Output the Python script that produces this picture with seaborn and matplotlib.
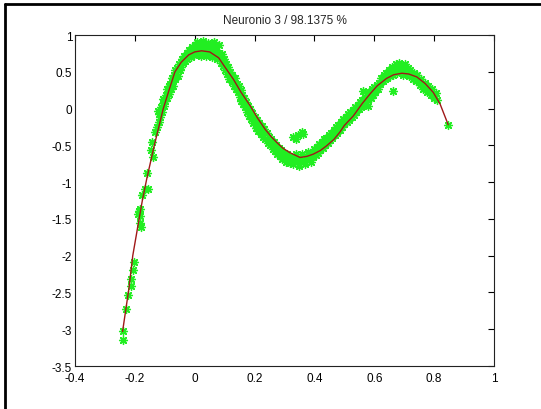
import matplotlib
matplotlib.use("Agg")
import matplotlib.pyplot as plt
from matplotlib.lines import Line2D
import seaborn as sns
import pandas as pd

title = "Neuronio 3 / 98.1375 %"

# fitted curve
curve_x = [-0.241, -0.22, -0.207, -0.19, -0.175, -0.16, -0.145, -0.135, -0.12, -0.105,
           -0.085, -0.066, -0.045, -0.02, 0.0, 0.023, 0.05, 0.08, 0.10, 0.129, 0.155,
           0.185, 0.21, 0.235, 0.255, 0.274, 0.295, 0.318, 0.352, 0.375, 0.396, 0.42,
           0.441, 0.465, 0.485, 0.50, 0.53, 0.56, 0.586, 0.61, 0.641, 0.665, 0.692,
           0.715, 0.742, 0.77, 0.797, 0.82, 0.847]
curve_y = [-3.03, -2.45, -2.0, -1.6, -1.25, -0.95, -0.68, -0.5, -0.25, 0.0,
           0.26, 0.5, 0.63, 0.73, 0.77, 0.785, 0.77, 0.69, 0.57, 0.40, 0.22,
           0.04, -0.13, -0.28, -0.38, -0.46, -0.54, -0.60, -0.665, -0.65, -0.62, -0.57,
           -0.505, -0.42, -0.32, -0.23, -0.10, 0.07, 0.20, 0.31, 0.41, 0.46, 0.48,
           0.47, 0.43, 0.34, 0.22, 0.06, -0.22]

pts_x = [
    -0.241, -0.241, -0.230, -0.222, -0.214, -0.213, -0.205, -0.203, -0.181, -0.183,
    -0.183, -0.185, -0.188, -0.183, -0.177, -0.166, -0.155, -0.158, -0.138, -0.146,
    -0.142, -0.133, -0.127, -0.122,
    -0.120, -0.118, -0.115, -0.112, -0.110, -0.107, -0.105, -0.102, -0.100, -0.097,
    -0.094, -0.092, -0.090, -0.087, -0.085, -0.082, -0.080, -0.077, -0.075, -0.072,
    -0.070, -0.067, -0.065, -0.062, -0.060, -0.057, -0.055, -0.052, -0.050, -0.047,
    -0.045, -0.042, -0.040, -0.038, -0.035, -0.032, -0.030, -0.027, -0.025, -0.022,
    -0.020, -0.016, -0.013, -0.010, -0.007, -0.004, 0.000, 0.003, 0.007, 0.010,
    0.013, 0.016, 0.019, 0.022, 0.025, 0.029, 0.032, 0.035, 0.038, 0.041,
    0.044, 0.047, 0.051, 0.054, 0.057, 0.060, 0.063, 0.066, 0.069, 0.072,
    0.075, 0.078, 0.081, 0.084, 0.087, 0.090, 0.093, 0.096, 0.099,
    0.102, 0.105, 0.108, 0.111, 0.114, 0.117, 0.120, 0.123, 0.126, 0.129,
    0.132, 0.135, 0.138, 0.141, 0.144, 0.147, 0.150, 0.153, 0.156, 0.159,
    0.162, 0.165, 0.168, 0.172, 0.175, 0.178, 0.182, 0.185, 0.188, 0.192,
    0.196, 0.200, 0.204, 0.208, 0.212, 0.216, 0.220, 0.224, 0.228, 0.232,
    0.236, 0.240, 0.244, 0.248, 0.252, 0.256, 0.260, 0.264, 0.268, 0.272,
    0.276, 0.280, 0.284, 0.288, 0.292, 0.296, 0.300, 0.304, 0.308, 0.312,
    0.316, 0.320, 0.324,
    0.330, 0.340, 0.357, 0.363, 0.345,
    0.328, 0.332, 0.336, 0.340, 0.344, 0.348, 0.352, 0.356, 0.360, 0.364,
    0.368, 0.372, 0.376, 0.380, 0.384, 0.388, 0.392, 0.396, 0.400, 0.404,
    0.408, 0.412, 0.416, 0.420, 0.424, 0.428, 0.432, 0.436, 0.440, 0.444,
    0.448, 0.452, 0.456, 0.460, 0.464, 0.468, 0.472, 0.476, 0.480, 0.484,
    0.488, 0.492, 0.496, 0.500, 0.504, 0.508, 0.512, 0.516, 0.520, 0.524,
    0.528, 0.532, 0.536, 0.540, 0.544, 0.548, 0.552, 0.556, 0.560, 0.564,
    0.568, 0.572, 0.576, 0.580, 0.584, 0.588, 0.592, 0.596, 0.600, 0.604,
    0.608, 0.612, 0.616,
    0.620, 0.624, 0.628, 0.632, 0.636, 0.640, 0.644, 0.648, 0.652, 0.656,
    0.660, 0.664, 0.668, 0.672, 0.676, 0.680, 0.684, 0.688, 0.692, 0.696,
    0.700, 0.704, 0.708, 0.712, 0.716, 0.720, 0.724, 0.728, 0.732, 0.736,
    0.740, 0.744, 0.748, 0.752, 0.756, 0.760, 0.764, 0.768, 0.772, 0.776,
    0.780, 0.784, 0.788, 0.792, 0.796, 0.800, 0.805, 0.810, 0.847, 0.663,
    0.580, 0.563,
]
pts_y = [
    -3.15, -3.02, -2.72, -2.54, -2.41, -2.32, -2.20, -2.09, -1.61, -1.55,
    -1.46, -1.39, -1.43, -1.37, -1.18, -1.09, -1.09, -0.87, -0.66, -0.57,
    -0.46, -0.32, -0.25, -0.03,
    -0.18, -0.08, -0.12, 0.02, -0.05, 0.08, 0.13, 0.03, 0.10, 0.18,
    0.27, 0.15, 0.22, 0.30, 0.20, 0.33, 0.27, 0.36, 0.42, 0.31,
    0.45, 0.40, 0.52, 0.47, 0.55, 0.44, 0.54, 0.60, 0.52, 0.63,
    0.57, 0.67, 0.62, 0.65, 0.72, 0.64, 0.70, 0.76, 0.68, 0.74,
    0.80, 0.76, 0.70, 0.84, 0.78, 0.73, 0.86, 0.80, 0.90, 0.74,
    0.83, 0.77, 0.88, 0.71, 0.82, 0.92, 0.76, 0.85, 0.72, 0.80,
    0.89, 0.74, 0.88, 0.79, 0.70, 0.84, 0.76, 0.90, 0.72, 0.80,
    0.67, 0.75, 0.86, 0.70, 0.62, 0.74, 0.66, 0.58, 0.68,
    0.52, 0.60, 0.47, 0.56, 0.40, 0.50, 0.44, 0.36, 0.46, 0.38,
    0.30, 0.41, 0.27, 0.34, 0.22, 0.30, 0.16, 0.25, 0.10, 0.18,
    0.06, 0.14, 0.02, 0.09, -0.05, 0.04, -0.10, 0.00, -0.14, -0.06,
    -0.20, -0.12, -0.26, -0.16, -0.30, -0.20, -0.34, -0.24, -0.38, -0.28,
    -0.42, -0.33, -0.47, -0.38, -0.50, -0.42, -0.55, -0.46, -0.58, -0.50,
    -0.62, -0.53, -0.64, -0.57, -0.68, -0.60, -0.66, -0.72, -0.62, -0.70,
    -0.64, -0.74, -0.67,
    -0.39, -0.42, -0.32, -0.35, -0.36,
    -0.76, -0.66, -0.72, -0.62, -0.70, -0.78, -0.67, -0.73, -0.62, -0.70,
    -0.76, -0.64, -0.70, -0.59, -0.67, -0.73, -0.60, -0.66, -0.55, -0.63,
    -0.52, -0.60, -0.48, -0.56, -0.45, -0.53, -0.42, -0.50, -0.40, -0.47,
    -0.36, -0.43, -0.33, -0.40, -0.29, -0.36, -0.25, -0.33, -0.22, -0.29,
    -0.18, -0.25, -0.14, -0.21, -0.11, -0.18, -0.08, -0.15, -0.05, -0.12,
    -0.02, -0.09, 0.02, -0.05, 0.05, -0.01, 0.09, 0.02, 0.12, 0.05,
    0.16, 0.09, 0.19, 0.12, 0.23, 0.15, 0.26, 0.19, 0.29, 0.23,
    0.32, 0.26, 0.35,
    0.34, 0.42, 0.37, 0.45, 0.40, 0.48, 0.42, 0.52, 0.44, 0.50,
    0.56, 0.46, 0.53, 0.60, 0.48, 0.55, 0.62, 0.50, 0.57, 0.46,
    0.53, 0.60, 0.48, 0.55, 0.44, 0.52, 0.46, 0.40, 0.49, 0.43,
    0.37, 0.45, 0.38, 0.32, 0.40, 0.33, 0.27, 0.35, 0.28, 0.22,
    0.30, 0.24, 0.18, 0.26, 0.20, 0.14, 0.21, 0.12, -0.22, 0.24,
    0.04, 0.24,
]

x_ticks = [-0.4, -0.2, 0, 0.2, 0.4, 0.6, 0.8, 1]
x_tick_labels = ["-0.4", "-0.2", "0", "0.2", "0.4", "0.6", "0.8", "1"]
y_ticks = [-3.5, -3, -2.5, -2, -1.5, -1, -0.5, 0, 0.5, 1]
y_tick_labels = ["-3.5", "-3", "-2.5", "-2", "-1.5", "-1", "-0.5", "0", "0.5", "1"]

sns.set_theme(style="white")
plt.rcParams['font.family'] = ['Liberation Sans', 'DejaVu Sans']

W, H = 541, 410
fig = plt.figure(figsize=(W / 100, H / 100), dpi=100)
left, right, top, bottom = 75, 494, 36, 367
ax = fig.add_axes([left / W, (H - bottom) / H, (right - left) / W, (bottom - top) / H])

pts = pd.DataFrame({"x": pts_x, "y": pts_y})
cur = pd.DataFrame({"x": curve_x, "y": curve_y})

sns.scatterplot(data=pts, x="x", y="y", ax=ax, marker=(8, 2, 0), s=32,
                color="#22ee22", linewidth=1.0, legend=False, zorder=2)
sns.lineplot(data=cur, x="x", y="y", ax=ax, sort=False, estimator=None,
             color="#a01818", linewidth=1.0, zorder=3)

ax.set_xlim(-0.4, 1)
ax.set_ylim(-3.5, 1)
ax.set_xticks(x_ticks)
ax.set_xticklabels(x_tick_labels)
ax.set_yticks(y_ticks)
ax.set_yticklabels(y_tick_labels)
ax.set_xlabel("")
ax.set_ylabel("")
ax.tick_params(axis="both", direction="in", length=4, width=0.8, labelsize=8.5,
               colors="black", top=True, right=True)
ax.tick_params(axis="x", pad=4)
ax.tick_params(axis="y", pad=2)
for sp in ax.spines.values():
    sp.set_visible(True)
    sp.set_color("#222222")
    sp.set_linewidth(0.8)
ax.set_title(title, fontsize=8.5, pad=9)

# screenshot frame at left and top
fig.add_artist(Line2D([4.5 / W, 4.5 / W], [0, 1 - 4.5 / H], transform=fig.transFigure,
                      color="black", linewidth=2))
fig.add_artist(Line2D([4.5 / W, 1], [1 - 4.5 / H, 1 - 4.5 / H], transform=fig.transFigure,
                      color="black", linewidth=2))

fig.savefig("out.png", dpi=100, facecolor="white")
